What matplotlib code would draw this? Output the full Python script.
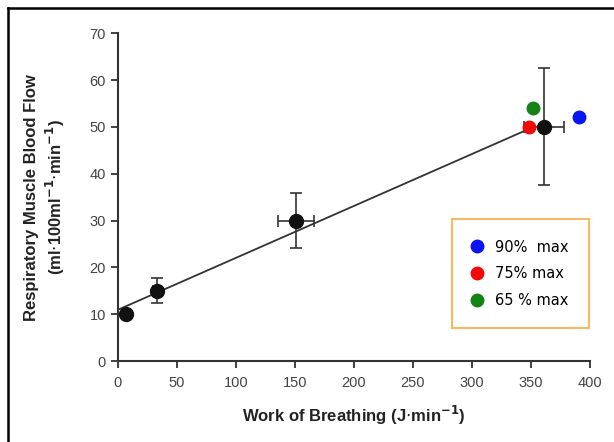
import numpy as np
import matplotlib.pyplot as plt
from matplotlib.lines import Line2D

# group means (work of breathing vs respiratory muscle blood flow)
wob = [7, 33, 151, 361]
flow = [10, 15, 30, 50]
wob_err = [0, 3, 15, 17]
flow_err = [0, 2.7, 5.8, 12.5]

# individual intensities
pt_labels = ["90%  max", "75% max", "65 % max"]
pt_x = [391, 348, 352]
pt_y = [52, 50, 54]
pt_colors = ["#0a14f0", "#f00a0a", "#148214"]

x_ticks = [0, 50, 100, 150, 200, 250, 300, 350, 400]
y_ticks = [0, 10, 20, 30, 40, 50, 60, 70]

AXIS_COLOR = "#333333"
TICK_COLOR = "#444444"

fig = plt.figure(figsize=(6.14, 4.42), dpi=100)
ax = fig.add_axes([0.192, 0.183, 0.769, 0.742])

# regression through the means
slope, icpt = np.polyfit(wob, flow, 1)
fx = np.array([0, 346])
ax.plot(fx, icpt + slope * fx, color="#333333", lw=1.3, zorder=2)

ax.errorbar(wob, flow, xerr=wob_err, yerr=flow_err, fmt="none",
            ecolor="#333333", elinewidth=1.2, capsize=4, capthick=1.2, zorder=3)
ax.plot(wob, flow, "o", color="#111111", ms=10, zorder=4)

for x, y, c in zip(pt_x, pt_y, pt_colors):
    ax.plot(x, y, "o", color=c, ms=9, zorder=5)

ax.set_xlim(0, 400)
ax.set_ylim(0, 70)
ax.set_xticks(x_ticks)
ax.set_yticks(y_ticks)

for s in ["top", "right"]:
    ax.spines[s].set_visible(False)
for s in ["left", "bottom"]:
    ax.spines[s].set_color(AXIS_COLOR)
    ax.spines[s].set_linewidth(1.5)
ax.tick_params(direction="out", length=5, width=1.3, color=AXIS_COLOR,
               labelcolor=TICK_COLOR, labelsize=10.5)
ax.tick_params(axis="x", pad=6)
for lab in ax.get_xticklabels() + ax.get_yticklabels():
    lab.set_fontfamily("Liberation Sans")

ax.set_xlabel("Work of Breathing (J$\\cdot$min$^{\\mathbf{-1}}$)", fontsize=12,
              fontweight="bold", family="Liberation Sans", color="#222222", labelpad=10)
ax.set_ylabel("Respiratory Muscle Blood Flow\n(ml$\\cdot$100ml$^{\\mathbf{-1}}$$\\cdot$min$^{\\mathbf{-1}}$)",
              fontsize=12, fontweight="bold", family="Liberation Sans", color="#222222",
              labelpad=16, linespacing=1.3)

handles = [Line2D([], [], marker="o", ls="none", color=c, ms=9) for c in pt_colors]
leg = ax.legend(handles, pt_labels, loc="lower right", bbox_to_anchor=(0.997, 0.1),
                frameon=True, fancybox=False, borderpad=1.4,
                labelspacing=0.8, handlelength=0.6, handletextpad=0.93, borderaxespad=0,
                prop={"family": "DejaVu Sans", "size": 10.5})
leg.get_frame().set_edgecolor("#f5a93a")
leg.get_frame().set_linewidth(1.5)

# page frame (left and top edges)
fig.add_artist(Line2D([8 / 614, 8 / 614], [0, 1 - 8 / 442], color="black", lw=1.8,
                      transform=fig.transFigure))
fig.add_artist(Line2D([8 / 614, 1], [1 - 8 / 442, 1 - 8 / 442], color="black", lw=1.8,
                      transform=fig.transFigure))

fig.savefig("out.png", dpi=100)
